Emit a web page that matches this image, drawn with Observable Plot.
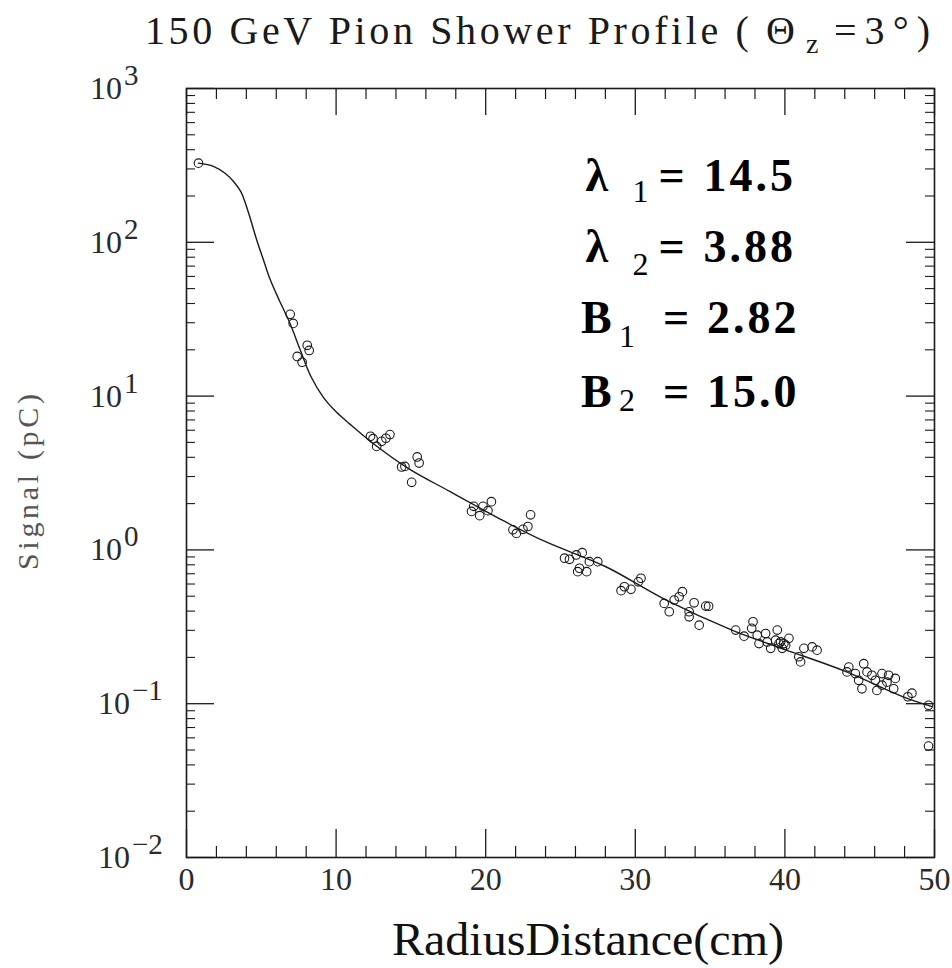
<!DOCTYPE html>
<html><head><meta charset="utf-8">
<script src="https://cdn.jsdelivr.net/npm/d3@7"></script>
<script src="https://cdn.jsdelivr.net/npm/@observablehq/plot@0.6"></script>
<style>body{margin:0;background:#fff;} #chart svg{display:block;}</style>
</head><body><div id="chart"></div>
<script>
// ---- data ----
const pointX = [0.8,
  6.93,7.13,8.07,8.2,7.4,7.73,
  12.3,12.47,12.71,13.05,13.33,13.6,
  14.38,14.6,15.42,15.55,15.05,
  19.05,19.2,19.6,19.82,20.15,20.38,
  21.82,22.05,22.49,22.82,23.0,
  25.27,25.6,26.05,26.45,26.27,26.75,26.93,27.49,26.15,
  29.27,29.71,30.38,29.05,30.2,
  31.93,32.27,32.6,32.93,33.15,33.6,33.93,33.6,34.27,34.71,34.9,
  36.71,37.27,
  37.87,37.78,38.15,38.27,38.71,38.82,39.49,39.6,39.82,40.27,39.05,40.05,40.93,41.05,41.27,41.82,42.15,39.38,39.71,39.93,
  44.27,44.15,44.71,44.93,45.27,45.49,45.15,45.82,46.05,46.15,46.49,46.82,46.93,47.38,47.27,46.49,
  48.49,48.22,49.6,49.6];
const pointY = [327,
  34.0,29.7,21.4,19.8,18.1,16.6,
  5.48,5.29,4.71,5.08,5.32,5.62,
  3.46,3.49,4.02,3.67,2.75,
  1.78,1.92,1.67,1.92,1.80,2.06,
  1.35,1.28,1.36,1.42,1.69,
  0.883,0.869,0.927,0.96,0.760,0.722,0.839,0.839,0.722,
  0.576,0.554,0.654,0.543,0.62,
  0.449,0.396,0.472,0.496,0.535,0.396,0.453,0.367,0.324,0.431,0.43,
  0.301,0.275,
  0.341,0.309,0.279,0.246,0.286,0.252,0.301,0.246,0.229,0.266,0.229,0.240,0.202,0.187,0.229,0.234,0.223,0.259,0.252,0.246,
  0.173,0.161,0.157,0.142,0.182,0.161,0.125,0.153,0.142,0.122,0.157,0.138,0.153,0.146,0.125,0.132,
  0.117,0.111,0.0977,0.053];

const curveX = [0.8,1.8,2.6,3.2,3.65,3.95,4.3,4.7,5.2,5.6,6.2,6.9,7.6,8.3,9.15,10.0,10.9,12.5,14.9,17.6,19.8,21,24,28,32,36.5,40,44,48,49.8];
const curveY = [327,312,280,245,212,178,139,103,74,57,42,30,20,13.5,9.8,7.9,6.6,4.9,3.35,2.4,1.83,1.58,1.13,0.78,0.475,0.30,0.225,0.163,0.11,0.096];

const xMajorTicks = [0,10,20,30,40,50];
const xMinorTicks = [2,4,6,8,12,14,16,18,22,24,26,28,32,34,36,38,42,44,46,48];
const yMajorTicks = [0.01,0.1,1,10,100,1000];
const yTickExponents = ["\u22122","\u22121","0","1","2","3"];
const yMinorTicks = [];
for (const d of [0.01,0.1,1,10,100]) for (const m of [2,3,4,5,6,7,8,9]) yMinorTicks.push(d*m);

const titleText = "150 GeV Pion Shower Profile ( \u0398";
const xLabel = "RadiusDistance(cm)";
const yLabel = "Signal (pC)";
const annMain = ["\u03bb","\u03bb","B","B"];
const annSub = ["1","2","1","2"];
const annVal = ["14.5","3.88","2.82","15.0"];

// ---- layout ----
const W = 952, H = 968;
const mL = 186, mR = 18, mT = 88, mB = 111;
const fw = W - mL - mR, fh = H - mT - mB;
const ink = "#1a1a1a";
const serif = "'Liberation Serif', 'Times New Roman', serif";

const points = pointX.map((x,i) => ({x, y: pointY[i]}));
const curve = curveX.map((x,i) => ({x, y: curveY[i]}));

const plot = Plot.plot({
  width: W, height: H,
  marginLeft: mL, marginRight: mR, marginTop: mT, marginBottom: mB,
  x: {domain: [0,50], axis: null},
  y: {type: "log", domain: [0.01,1000], axis: null},
  style: {background: "white"},
  marks: [
    Plot.ruleX(xMajorTicks, {x: d=>d, insetTop: fh-28, stroke: ink, strokeWidth: 1.3}),
    Plot.ruleX(xMajorTicks, {x: d=>d, insetBottom: fh-27, stroke: ink, strokeWidth: 1.3}),
    Plot.ruleX(xMinorTicks, {x: d=>d, insetTop: fh-11, stroke: ink, strokeWidth: 1.2}),
    Plot.ruleX(xMinorTicks, {x: d=>d, insetBottom: fh-11, stroke: ink, strokeWidth: 1.2}),
    Plot.ruleY(yMajorTicks, {y: d=>d, insetRight: fw-28, stroke: ink, strokeWidth: 1.3}),
    Plot.ruleY(yMajorTicks, {y: d=>d, insetLeft: fw-28, stroke: ink, strokeWidth: 1.3}),
    Plot.ruleY(yMinorTicks, {y: d=>d, insetRight: fw-9, stroke: ink, strokeWidth: 1.1}),
    Plot.ruleY(yMinorTicks, {y: d=>d, insetLeft: fw-9, stroke: ink, strokeWidth: 1.1}),
    Plot.frame({stroke: ink, strokeWidth: 1.6}),
    Plot.line(curve, {x: "x", y: "y", curve: "catmull-rom", stroke: ink, strokeWidth: 1.4}),
    Plot.dot(points, {x: "x", y: "y", r: 4.3, stroke: ink, strokeWidth: 1.1, fill: "none"}),
    Plot.text(xMajorTicks, {x: d=>d, frameAnchor: "bottom", dy: 32, text: d=>String(d),
      fontSize: 32, fontFamily: serif, fill: "#2a2a2a"})
  ]
});

const svg = d3.select(plot);
const xs = plot.scale("x"), ys = plot.scale("y");

function txt(sel) {
  return sel.append("text").attr("text-anchor", "start").attr("font-family", serif);
}

// y tick labels with superscript exponents
yMajorTicks.forEach((v,i) => {
  const py = ys.apply(v);
  const neg = yTickExponents[i].startsWith("\u2212");
  const t = txt(svg).attr("x", neg ? 98 : 90).attr("y", py + 11)
    .attr("font-size", 32).attr("fill", "#2a2a2a");
  t.append("tspan").text("10");
  t.append("tspan").attr("dx", 2).attr("dy", -14).attr("font-size", 29).text(yTickExponents[i]);
});

// title
txt(svg).attr("x", 145).attr("y", 44).attr("font-size", 40).attr("fill", "#1a1a1a")
  .attr("textLength", 650).attr("lengthAdjust", "spacing").text(titleText);
txt(svg).attr("x", 806).attr("y", 53).attr("font-size", 28).attr("fill", "#1a1a1a").text("z");
txt(svg).attr("x", 834).attr("y", 44).attr("font-size", 40).attr("fill", "#1a1a1a")
  .attr("textLength", 96).attr("lengthAdjust", "spacing").text("=3\u00b0)");

// x label
txt(svg).attr("x", 392).attr("y", 955).attr("font-size", 46).attr("fill", "#111")
  .attr("textLength", 392).attr("lengthAdjust", "spacingAndGlyphs").text(xLabel);

// y label
svg.append("text").attr("transform", "translate(38,482) rotate(-90)")
  .attr("text-anchor", "middle").attr("font-family", serif)
  .attr("font-size", 30).attr("fill", "#555")
  .attr("textLength", 176).attr("lengthAdjust", "spacing").text(yLabel);

// fit-parameter annotations
const rowBase = [191, 262, 333, 407];
const subDy = [11, 13, 14, 4];
annMain.forEach((m,i) => {
  const isB = m === "B";
  const x0 = xs.apply(isB ? 26.4 : 26.7);
  const g = svg.append("g").attr("fill", "#000");
  txt(g).attr("x", x0).attr("y", rowBase[i]).attr("font-size", 46).attr("font-weight", "bold").text(m);
  txt(g).attr("x", x0 + (isB ? 38 : 47)).attr("y", rowBase[i] + subDy[i]).attr("font-size", 32).text(annSub[i]);
  txt(g).attr("x", x0 + (isB ? 82 : 73)).attr("y", rowBase[i]).attr("font-size", 46).attr("font-weight", "bold").text("=");
  txt(g).attr("x", x0 + (isB ? 126 : 118)).attr("y", rowBase[i]).attr("font-size", 46).attr("font-weight", "bold")
    .attr("letter-spacing", 3).text(annVal[i]);
});

document.getElementById("chart").appendChild(plot);
</script>
</body></html>
